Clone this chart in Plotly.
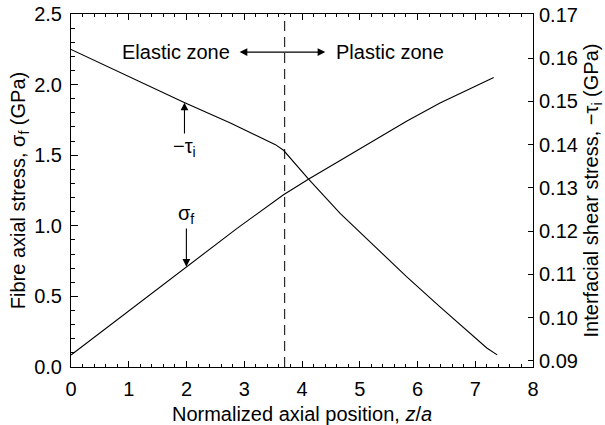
import plotly.graph_objects as go

# ---- data ----
z_sigma = [0.0, 2.0, 2.87, 3.68, 4.11, 4.69, 5.24, 5.81, 6.39, 7.32]
sigma_f = [0.085, 0.71, 0.98, 1.22, 1.33, 1.47, 1.605, 1.74, 1.87, 2.05]

z_tau = [0.0, 1.97, 2.76, 3.10, 3.39, 3.54, 3.68, 4.11, 4.66, 5.24, 5.81, 6.39, 6.97, 7.20, 7.38]
tau_i = [0.1620, 0.1497, 0.1450, 0.1429, 0.1411, 0.1400, 0.1387, 0.1321, 0.1241,
         0.1168, 0.1095, 0.1025, 0.0958, 0.0930, 0.0914]

zone_boundary = 3.70

FONT = "Liberation Sans, Arial, Helvetica, sans-serif"

fig = go.Figure()
fig.add_trace(go.Scatter(x=z_sigma, y=sigma_f, mode="lines",
                         line=dict(color="black", width=1.1), yaxis="y",
                         showlegend=False, hoverinfo="skip"))
fig.add_trace(go.Scatter(x=z_tau, y=tau_i, mode="lines",
                         line=dict(color="black", width=1.1), yaxis="y2",
                         showlegend=False, hoverinfo="skip"))

# dashed zone boundary
fig.add_shape(type="line", xref="x", yref="paper", x0=zone_boundary, x1=zone_boundary,
              y0=0, y1=1, line=dict(color="black", width=1, dash="10px,6px"))

ann = []
# zone labels
ann.append(dict(x=1.82, y=2.23, xref="x", yref="y", text="Elastic zone", showarrow=False,
                font=dict(size=20)))
ann.append(dict(x=5.52, y=2.23, xref="x", yref="y", text="Plastic zone", showarrow=False,
                font=dict(size=20)))
ann.append(dict(x=2.92, y=2.23, ax=4.43, ay=2.23, xref="x", yref="y", axref="x", ayref="y",
                text="", showarrow=True, arrowhead=2, startarrowhead=2, arrowside="end+start",
                arrowsize=1.4, startarrowsize=1.4, arrowwidth=1.1, arrowcolor="black",
                standoff=0, startstandoff=0))
# -tau_i pointer
ann.append(dict(x=1.965, y=1.872, ax=1.965, ay=1.555, xref="x", yref="y", axref="x", ayref="y",
                text="\u2212\u03c4<sub>i</sub>", showarrow=True, arrowhead=2, arrowsize=1.4,
                arrowwidth=1.1, arrowcolor="black", standoff=0, font=dict(size=20)))
# sigma_f pointer
ann.append(dict(x=1.998, y=0.71, ax=1.998, ay=1.08, xref="x", yref="y", axref="x", ayref="y",
                text="\u03c3<sub>f</sub>", showarrow=True, arrowhead=2, arrowsize=1.4,
                arrowwidth=1.1, arrowcolor="black", standoff=0, font=dict(size=20)))

fig.update_layout(
    width=605, height=425,
    margin=dict(l=71, r=72, t=14, b=58, autoexpand=False),
    paper_bgcolor="white", plot_bgcolor="white",
    font=dict(family=FONT, size=20, color="black"),
    annotations=ann,
    xaxis=dict(range=[0, 8], dtick=1, tick0=0, showgrid=False, zeroline=False,
               showline=True, linecolor="black", linewidth=1, mirror="ticks",
               ticks="inside", ticklen=6, tickwidth=1, tickcolor="black",
               minor=dict(dtick=0.2, ticks="inside", ticklen=3, tickcolor="black", showgrid=False),
               ticklabelstandoff=4, automargin=False,
               title=dict(text="Normalized axial position, <i>z</i>/<i>a</i>",
                          font=dict(size=20), standoff=10)),
    yaxis=dict(range=[0, 2.5], dtick=0.5, tick0=0, tickformat=".1f", showgrid=False,
               zeroline=False, showline=True, linecolor="black", linewidth=1,
               ticks="inside", ticklen=7, tickwidth=1, tickcolor="black",
               minor=dict(dtick=0.1, ticks="inside", ticklen=4, tickcolor="black", showgrid=False),
               ticklabelstandoff=4, automargin=False,
               title=dict(text="Fibre axial stress, \u03c3<sub>f</sub> (GPa)",
                          font=dict(size=20), standoff=3)),
    yaxis2=dict(range=[0.0886, 0.1702], overlaying="y", side="right", dtick=0.01, tick0=0.09,
                tickformat=".2f", showgrid=False, zeroline=False, showline=True,
                linecolor="black", linewidth=1, ticks="inside", ticklen=5, tickwidth=1,
                tickcolor="black", ticklabelstandoff=1, automargin=False,
                title=dict(text="Interfacial shear stress, \u2212\u03c4<sub>i</sub> (GPa)",
                           font=dict(size=20), standoff=16)),
)

fig.write_html("out.html")
